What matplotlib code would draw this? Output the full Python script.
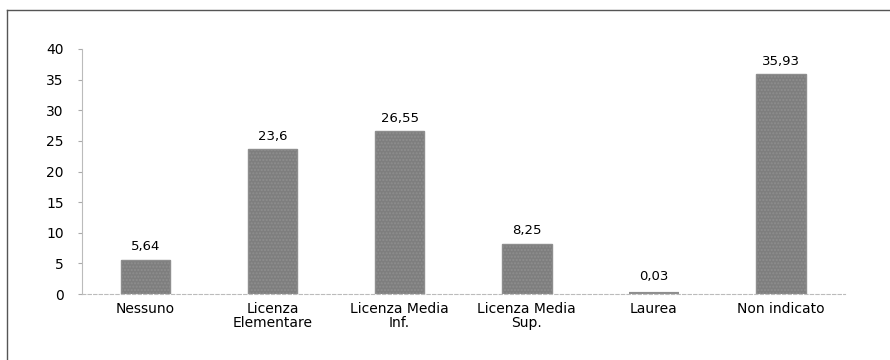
import matplotlib.pyplot as plt
from matplotlib.lines import Line2D

plt.rcParams['font.family'] = ['DejaVu Sans']
plt.rcParams['hatch.color'] = '#5e5e5e'

categories = ['Nessuno', 'Licenza\nElementare', 'Licenza Media\nInf.',
              'Licenza Media\nSup.', 'Laurea', 'Non indicato']
values = [5.64, 23.6, 26.55, 8.25, 0.03, 35.93]
value_labels = ['5,64', '23,6', '26,55', '8,25', '0,03', '35,93']
y_ticks = [0, 5, 10, 15, 20, 25, 30, 35, 40]

fig = plt.figure(figsize=(8.9, 3.6), dpi=100)
ax = fig.add_axes([0.092, 0.183, 0.857, 0.681])

x = range(len(categories))
# the tiny Laurea bar gets a thicker edge so it shows as a sliver, like the scan
edge_w = [1.0, 1.0, 1.0, 1.0, 3.0, 1.0]
ax.bar(x, values, width=0.39, color='#7e7e7e', edgecolor='#8e8e8e',
       linewidth=edge_w, hatch='.....')

for xi, v, lab in zip(x, values, value_labels):
    ax.text(xi, max(v, 0.8) + 1.0, lab, ha='center', va='bottom', fontsize=9.5)

ax.set_xlim(-0.5, 5.5)
ax.set_ylim(0, 40)
ax.set_yticks(y_ticks)
ax.set_xticks(list(x))
ax.set_xticklabels(categories, fontsize=10, linespacing=1.0)
ax.tick_params(axis='y', labelsize=10, length=3, color='#aaaaaa', pad=10)
ax.tick_params(axis='x', length=0, pad=6)

for s in ['top', 'right']:
    ax.spines[s].set_visible(False)
ax.spines['left'].set_color('#bbbbbb')
ax.spines['left'].set_linestyle((0, (2, 1)))
ax.spines['left'].set_linewidth(0.8)
ax.spines['bottom'].set_color('#bbbbbb')
ax.spines['bottom'].set_linestyle((0, (3, 2)))
ax.spines['bottom'].set_linewidth(0.8)

# outer frame (top and left edges of the scanned box)
fig.add_artist(Line2D([0.008, 1.0], [0.972, 0.972], color='#555555', lw=1.0,
                      transform=fig.transFigure))
fig.add_artist(Line2D([0.008, 0.008], [0.0, 0.972], color='#555555', lw=1.0,
                      transform=fig.transFigure))

fig.savefig('out.png', dpi=100)
